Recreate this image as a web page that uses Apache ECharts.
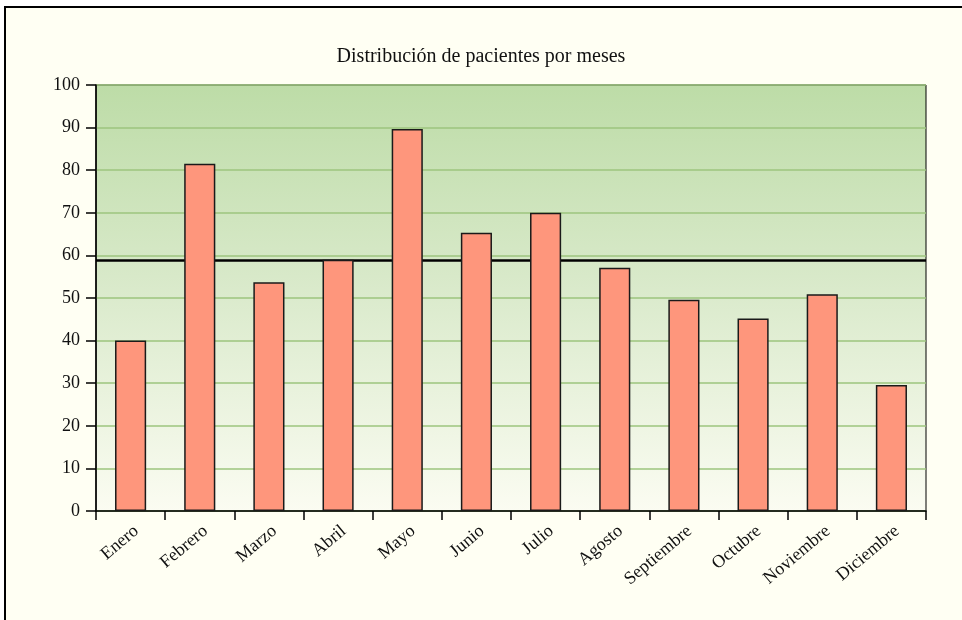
<!DOCTYPE html>
<html>
<head>
<meta charset="utf-8">
<script src="https://cdn.jsdelivr.net/npm/echarts@6/dist/echarts.min.js"></script>
<style>
  html, body { margin: 0; padding: 0; background: #ffffff; }
  #chart { width: 962px; height: 620px; }
</style>
</head>
<body>
<div id="chart"></div>
<script>
// Monthly patient counts
const months = ['Enero', 'Febrero', 'Marzo', 'Abril', 'Mayo', 'Junio', 'Julio',
  'Agosto', 'Septiembre', 'Octubre', 'Noviembre', 'Diciembre'];
const patients = [40, 81.5, 53.7, 59, 89.7, 65.3, 70, 57.1, 49.6, 45.2, 50.9, 29.6];
// Reference level drawn as a horizontal line behind the bars
const referenceLevel = 58.9;
const yTicks = [0, 10, 20, 30, 40, 50, 60, 70, 80, 90, 100];

const serif = '"Liberation Serif", "DejaVu Serif", serif';

const chart = echarts.init(document.getElementById('chart'), null, { renderer: 'canvas' });
chart.setOption({
  backgroundColor: '#ffffff',
  animation: false,
  graphic: [{
    type: 'rect',
    z: -100,
    silent: true,
    shape: { x: 5, y: 7, width: 1000, height: 700 },
    style: { fill: '#fffff3', stroke: '#000000', lineWidth: 2 }
  }],
  title: {
    text: 'Distribución de pacientes por meses',
    left: 'center',
    top: 42,
    textStyle: { fontFamily: serif, fontSize: 20, fontWeight: 'normal', color: '#111111' }
  },
  grid: {
    left: 96, right: 36, top: 85, bottom: 109,
    show: true,
    borderColor: '#000000',
    borderWidth: 1,
    backgroundColor: {
      type: 'linear', x: 0, y: 0, x2: 0, y2: 1,
      colorStops: [
        { offset: 0, color: '#bddca7' },
        { offset: 0.45, color: '#d8e9c9' },
        { offset: 1, color: '#fbfcf2' }
      ]
    }
  },
  xAxis: {
    type: 'category',
    data: months,
    boundaryGap: true,
    axisLine: { show: true, lineStyle: { color: '#000000', width: 1.5 } },
    axisTick: { show: true, length: 9, lineStyle: { color: '#000000', width: 1.5 } },
    axisLabel: {
      rotate: 40,
      interval: 0,
      margin: 11,
      verticalAlign: 'top',
      fontFamily: serif,
      fontSize: 18,
      color: '#111111'
    },
    splitLine: { show: false }
  },
  yAxis: {
    type: 'value',
    min: yTicks[0],
    max: yTicks[yTicks.length - 1],
    interval: 10,
    axisLine: { show: true, lineStyle: { color: '#000000', width: 1.5 } },
    axisTick: { show: true, length: 10, lineStyle: { color: '#000000', width: 1.5 } },
    axisLabel: {
      margin: 16,
      fontFamily: serif,
      fontSize: 18,
      color: '#111111'
    },
    splitLine: { show: true, lineStyle: { color: '#9cc47e', width: 1.5 } }
  },
  series: [{
    type: 'line',
    data: [],
    z: 1,
    silent: true,
    markLine: {
      silent: true,
      z: 1,
      symbol: ['none', 'none'],
      label: { show: false },
      lineStyle: { color: '#000000', width: 2.5, type: 'solid' },
      data: [{ yAxis: referenceLevel }]
    }
  }, {
    type: 'bar',
    data: patients,
    z: 3,
    barWidth: '45%',
    itemStyle: { color: '#fe967c', borderColor: '#1a1a1a', borderWidth: 1.5 }
  }]
});
</script>
</body>
</html>
